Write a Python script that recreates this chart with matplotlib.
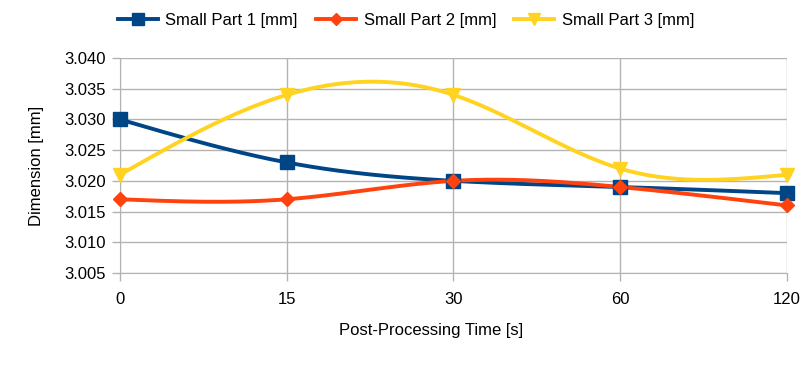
import matplotlib
matplotlib.use("Agg")
import matplotlib.pyplot as plt
from matplotlib.lines import Line2D
import numpy as np

# data
times = ["0", "15", "30", "60", "120"]
part1 = [3.030, 3.023, 3.020, 3.019, 3.018]
part2 = [3.017, 3.017, 3.020, 3.019, 3.016]
part3 = [3.021, 3.034, 3.034, 3.022, 3.021]
labels = ["Small Part 1 [mm]", "Small Part 2 [mm]", "Small Part 3 [mm]"]
colors = ["#004586", "#ff420e", "#ffd320"]
markers = ["s", "D", "v"]
msizes = [9.5, 7.5, 9.5]

plt.rcParams['font.family'] = ['Liberation Sans', 'DejaVu Sans']


def natural_spline(y, n=200):
    # smooth curve through the points, like the office chart "cubic spline" option
    y = np.asarray(y, dtype=float)
    k = len(y)
    A = np.zeros((k, k))
    b = np.zeros(k)
    A[0, 0] = A[-1, -1] = 1
    for i in range(1, k - 1):
        A[i, i - 1] = 1
        A[i, i] = 4
        A[i, i + 1] = 1
        b[i] = 6 * (y[i + 1] - 2 * y[i] + y[i - 1])
    m = np.linalg.solve(A, b)
    xs = np.linspace(0, k - 1, n)
    idx = np.minimum(xs.astype(int), k - 2)
    t = xs - idx
    ys = ((1 - t) * y[idx] + t * y[idx + 1]
          + ((1 - t) ** 3 - (1 - t)) * m[idx] / 6
          + (t ** 3 - t) * m[idx + 1] / 6)
    return xs, ys


fig = plt.figure(figsize=(8.12, 3.68), dpi=100)
ax = fig.add_axes([120 / 812, 1 - 273 / 368, 667 / 812, 215 / 368])

xpos = np.arange(len(times))
handles = []
for ys, lab, c, mk, ms in zip([part1, part2, part3], labels, colors, markers, msizes):
    sx, sy = natural_spline(ys)
    ax.plot(sx, sy, color=c, lw=2.8, zorder=3)
    ax.plot(xpos, ys, ls="none", marker=mk, color=c, ms=ms, zorder=4, clip_on=False)
    handles.append(Line2D([], [], color=c, lw=2.8, marker=mk, ms=ms * 0.85, label=lab))

ax.set_xlim(0, len(times) - 1)
ax.set_ylim(3.005, 3.040)
ax.set_xticks(xpos)
ax.set_xticklabels(times)
ax.set_yticks(np.arange(3.005, 3.0401, 0.005))
ax.yaxis.set_major_formatter(plt.FormatStrFormatter("%.3f"))
ax.grid(True, color="#b3b3b3", lw=1)
ax.set_axisbelow(True)
for s in ["top", "right"]:
    ax.spines[s].set_visible(False)
for s in ["left", "bottom"]:
    ax.spines[s].set_color("#b3b3b3")
ax.tick_params(colors="#b3b3b3", labelcolor="black", labelsize=12, length=6, width=1)
ax.tick_params(axis="x", pad=8)
ax.tick_params(axis="y", pad=4)

ax.set_ylabel("Dimension [mm]", fontsize=12, labelpad=15)
fig.text(431 / 812, 1 - 330 / 368, "Post-Processing Time [s]", ha="center", va="center", fontsize=12)

fig.legend(handles=handles, loc="center", bbox_to_anchor=(0.5, 1 - 20 / 368), ncol=3,
           frameon=False, fontsize=12, handlelength=2.4, columnspacing=1.1, handletextpad=0.45)

fig.savefig("out.png", dpi=100)
